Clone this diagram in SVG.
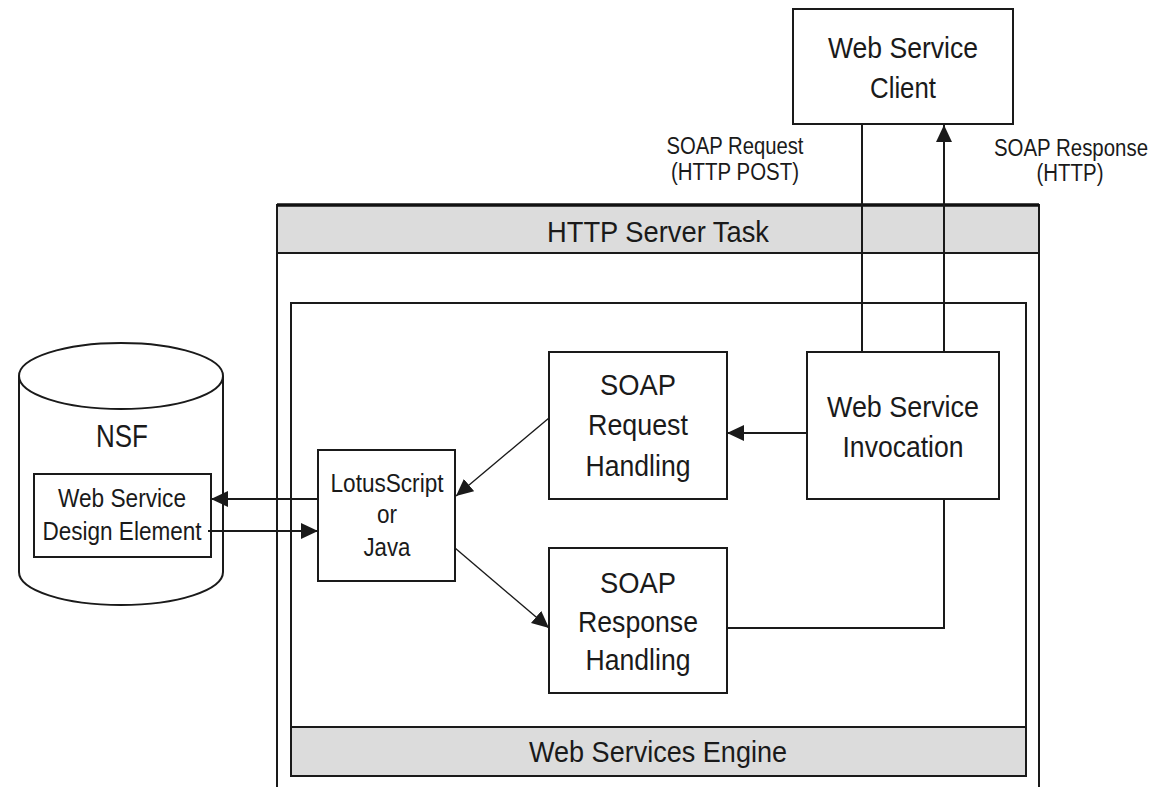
<svg xmlns="http://www.w3.org/2000/svg" width="1160" height="787" viewBox="0 0 1160 787">
<style>
.box{fill:#fff;stroke:#1a1a1a;stroke-width:2}
.hdr{fill:#dcdcdc;stroke:#1a1a1a;stroke-width:2}
.t{font-family:"Liberation Sans",Arial,sans-serif;fill:#1a1a1a;text-anchor:middle}
.c{stroke:#1a1a1a;stroke-width:2;fill:none}
.d{stroke:#1a1a1a;stroke-width:1.4;fill:none}
</style>
<defs>
<marker id="ah" viewBox="0 0 17 16" refX="17" refY="8" markerWidth="17" markerHeight="16" markerUnits="userSpaceOnUse" orient="auto">
<path d="M0,0 L17,8 L0,16 Z" fill="#1a1a1a"/>
</marker>
</defs>
<rect width="1160" height="787" fill="#fff"/>

<g id="http-server-task">
<path d="M277,790 L277,205 L1039,205 L1039,790" class="box"/>
<rect x="277" y="205" width="762" height="48" class="hdr"/>
<line x1="277" y1="205" x2="1039" y2="205" stroke="#111" stroke-width="3.5"/>
<text class="t" x="658" y="242" font-size="30" textLength="222" lengthAdjust="spacingAndGlyphs">HTTP Server Task</text>
</g>

<g id="web-services-engine">
<rect x="291" y="303" width="735" height="473" class="box"/>
<rect x="291" y="727" width="735" height="49" class="hdr"/>
<text class="t" x="658" y="762" font-size="30" textLength="258" lengthAdjust="spacingAndGlyphs">Web Services Engine</text>
</g>

<g id="web-service-client">
<rect x="793" y="9" width="220" height="115" class="box"/>
<text class="t" x="903" y="58" font-size="30" textLength="150" lengthAdjust="spacingAndGlyphs">Web Service</text>
<text class="t" x="903" y="98" font-size="30" textLength="66" lengthAdjust="spacingAndGlyphs">Client</text>
</g>

<g id="nsf">
<path d="M19,376 L19,572 A102,33 0 0 0 223,572 L223,376" class="box"/>
<ellipse cx="121" cy="376" rx="102" ry="33" class="box"/>
<text class="t" x="122" y="447" font-size="32" textLength="52" lengthAdjust="spacingAndGlyphs">NSF</text>
</g>

<g id="design-element">
<rect x="34" y="474" width="177" height="83" class="box"/>
<text class="t" x="122" y="507" font-size="25" textLength="128" lengthAdjust="spacingAndGlyphs">Web Service</text>
<text class="t" x="122" y="540" font-size="25" textLength="159" lengthAdjust="spacingAndGlyphs">Design Element</text>
</g>

<g id="lotusscript-java">
<rect x="318" y="450" width="137" height="131" class="box"/>
<text class="t" x="387" y="492" font-size="25" textLength="113" lengthAdjust="spacingAndGlyphs">LotusScript</text>
<text class="t" x="387" y="523" font-size="25" textLength="20" lengthAdjust="spacingAndGlyphs">or</text>
<text class="t" x="387" y="556" font-size="25" textLength="47" lengthAdjust="spacingAndGlyphs">Java</text>
</g>

<g id="soap-request-handling">
<rect x="549" y="352" width="178" height="147" class="box"/>
<text class="t" x="638" y="395" font-size="30" textLength="76" lengthAdjust="spacingAndGlyphs">SOAP</text>
<text class="t" x="638" y="435" font-size="30" textLength="100" lengthAdjust="spacingAndGlyphs">Request</text>
<text class="t" x="638" y="476" font-size="30" textLength="105" lengthAdjust="spacingAndGlyphs">Handling</text>
</g>

<g id="web-service-invocation">
<rect x="807" y="352" width="192" height="147" class="box"/>
<text class="t" x="903" y="417" font-size="30" textLength="152" lengthAdjust="spacingAndGlyphs">Web Service</text>
<text class="t" x="903" y="457" font-size="30" textLength="121" lengthAdjust="spacingAndGlyphs">Invocation</text>
</g>

<g id="soap-response-handling">
<rect x="549" y="548" width="178" height="145" class="box"/>
<text class="t" x="638" y="593" font-size="30" textLength="76" lengthAdjust="spacingAndGlyphs">SOAP</text>
<text class="t" x="638" y="632" font-size="30" textLength="120" lengthAdjust="spacingAndGlyphs">Response</text>
<text class="t" x="638" y="670" font-size="30" textLength="105" lengthAdjust="spacingAndGlyphs">Handling</text>
</g>

<g id="connectors">
<line x1="862" y1="124" x2="862" y2="352" class="c"/>
<line x1="944" y1="352" x2="944" y2="125" class="c" marker-end="url(#ah)"/>
<line x1="807" y1="433" x2="727" y2="433" class="c" marker-end="url(#ah)"/>
<line x1="549" y1="418" x2="456" y2="496" class="d" marker-end="url(#ah)"/>
<line x1="455" y1="548" x2="549" y2="628" class="d" marker-end="url(#ah)"/>
<polyline points="944,499 944,628 727,628" class="c"/>
<line x1="318" y1="499" x2="211" y2="499" class="c" marker-end="url(#ah)"/>
<line x1="208" y1="531" x2="318" y2="531" class="c" marker-end="url(#ah)"/>
</g>

<g id="labels">
<text class="t" x="735" y="154" font-size="23" textLength="137" lengthAdjust="spacingAndGlyphs">SOAP Request</text>
<text class="t" x="735" y="180" font-size="23" textLength="128" lengthAdjust="spacingAndGlyphs">(HTTP POST)</text>
<text class="t" x="1071" y="156" font-size="23" textLength="154" lengthAdjust="spacingAndGlyphs">SOAP Response</text>
<text class="t" x="1070" y="181" font-size="23" textLength="67" lengthAdjust="spacingAndGlyphs">(HTTP)</text>
</g>
</svg>
